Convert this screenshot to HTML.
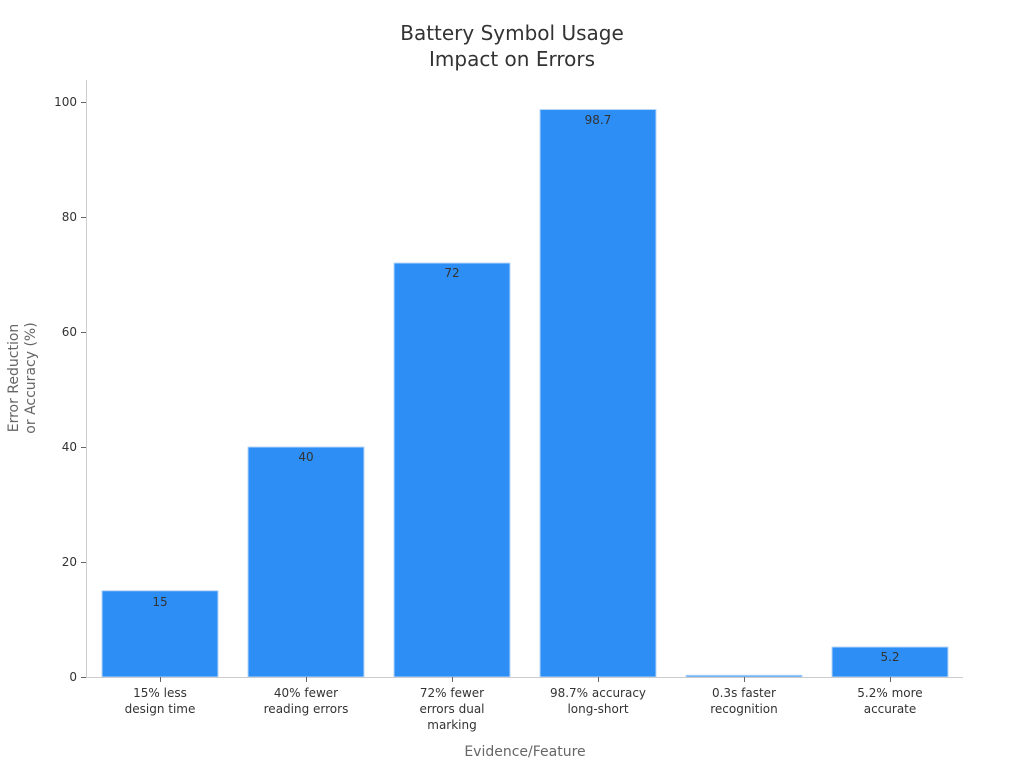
<!DOCTYPE html>
<html><head><meta charset="utf-8"><style>
body{margin:0;background:#fff}
svg text{font-family:"DejaVu Sans","Liberation Sans",sans-serif}
</style></head><body>
<svg width="1024" height="768" viewBox="0 0 1024 768" xmlns="http://www.w3.org/2000/svg">
<rect width="1024" height="768" fill="#fff"/>
<text x="512" y="40" text-anchor="middle" font-size="20" fill="#333">Battery Symbol Usage</text>
<text x="512" y="66" text-anchor="middle" font-size="20" fill="#333">Impact on Errors</text>
<g fill="#2d8ff5" stroke="#b8d6f8" stroke-width="1">
<rect x="102" y="590.75" width="116" height="86.25"/>
<rect x="248" y="447" width="116" height="230"/>
<rect x="394" y="263" width="116" height="414"/>
<rect x="540" y="109.5" width="116" height="567.5"/>
<rect x="686" y="675.3" width="116" height="1.7"/>
<rect x="832" y="647" width="116" height="30"/>
</g>
<g font-size="12" fill="#333" text-anchor="middle">
<text x="160" y="606">15</text>
<text x="306" y="461">40</text>
<text x="452" y="277">72</text>
<text x="598" y="124">98.7</text>
<text x="890" y="661">5.2</text>
</g>
<g stroke="#ccc" stroke-width="1">
<line x1="86.5" y1="80" x2="86.5" y2="677"/>
<line x1="86" y1="677.5" x2="963" y2="677.5"/>
</g>
<g stroke="#666" stroke-width="1">
<line x1="81" y1="677.5" x2="86" y2="677.5"/>
<line x1="81" y1="562.5" x2="86" y2="562.5"/>
<line x1="81" y1="447.5" x2="86" y2="447.5"/>
<line x1="81" y1="332.5" x2="86" y2="332.5"/>
<line x1="81" y1="217.5" x2="86" y2="217.5"/>
<line x1="81" y1="102.5" x2="86" y2="102.5"/>
<line x1="160.5" y1="677" x2="160.5" y2="682"/>
<line x1="306.5" y1="677" x2="306.5" y2="682"/>
<line x1="452.5" y1="677" x2="452.5" y2="682"/>
<line x1="598.5" y1="677" x2="598.5" y2="682"/>
<line x1="744.5" y1="677" x2="744.5" y2="682"/>
<line x1="890.5" y1="677" x2="890.5" y2="682"/>
</g>
<g font-size="12" fill="#333" text-anchor="end">
<text x="77" y="681">0</text>
<text x="77" y="566">20</text>
<text x="77" y="451">40</text>
<text x="77" y="336">60</text>
<text x="77" y="221">80</text>
<text x="77" y="106">100</text>
</g>
<g font-size="12" fill="#333" text-anchor="middle">
<text x="160" y="697">15% less</text><text x="160" y="713">design time</text>
<text x="306" y="697">40% fewer</text><text x="306" y="713">reading errors</text>
<text x="452" y="697">72% fewer</text><text x="452" y="713">errors dual</text><text x="452" y="729">marking</text>
<text x="598" y="697">98.7% accuracy</text><text x="598" y="713">long-short</text>
<text x="744" y="697">0.3s faster</text><text x="744" y="713">recognition</text>
<text x="890" y="697">5.2% more</text><text x="890" y="713">accurate</text>
</g>
<text x="525" y="756" text-anchor="middle" font-size="14" fill="#666">Evidence/Feature</text>
<g transform="translate(18,378) rotate(-90)" font-size="14" fill="#666" text-anchor="middle">
<text x="0" y="0">Error Reduction</text>
<text x="0" y="17">or Accuracy (%)</text>
</g>
</svg>
</body></html>
